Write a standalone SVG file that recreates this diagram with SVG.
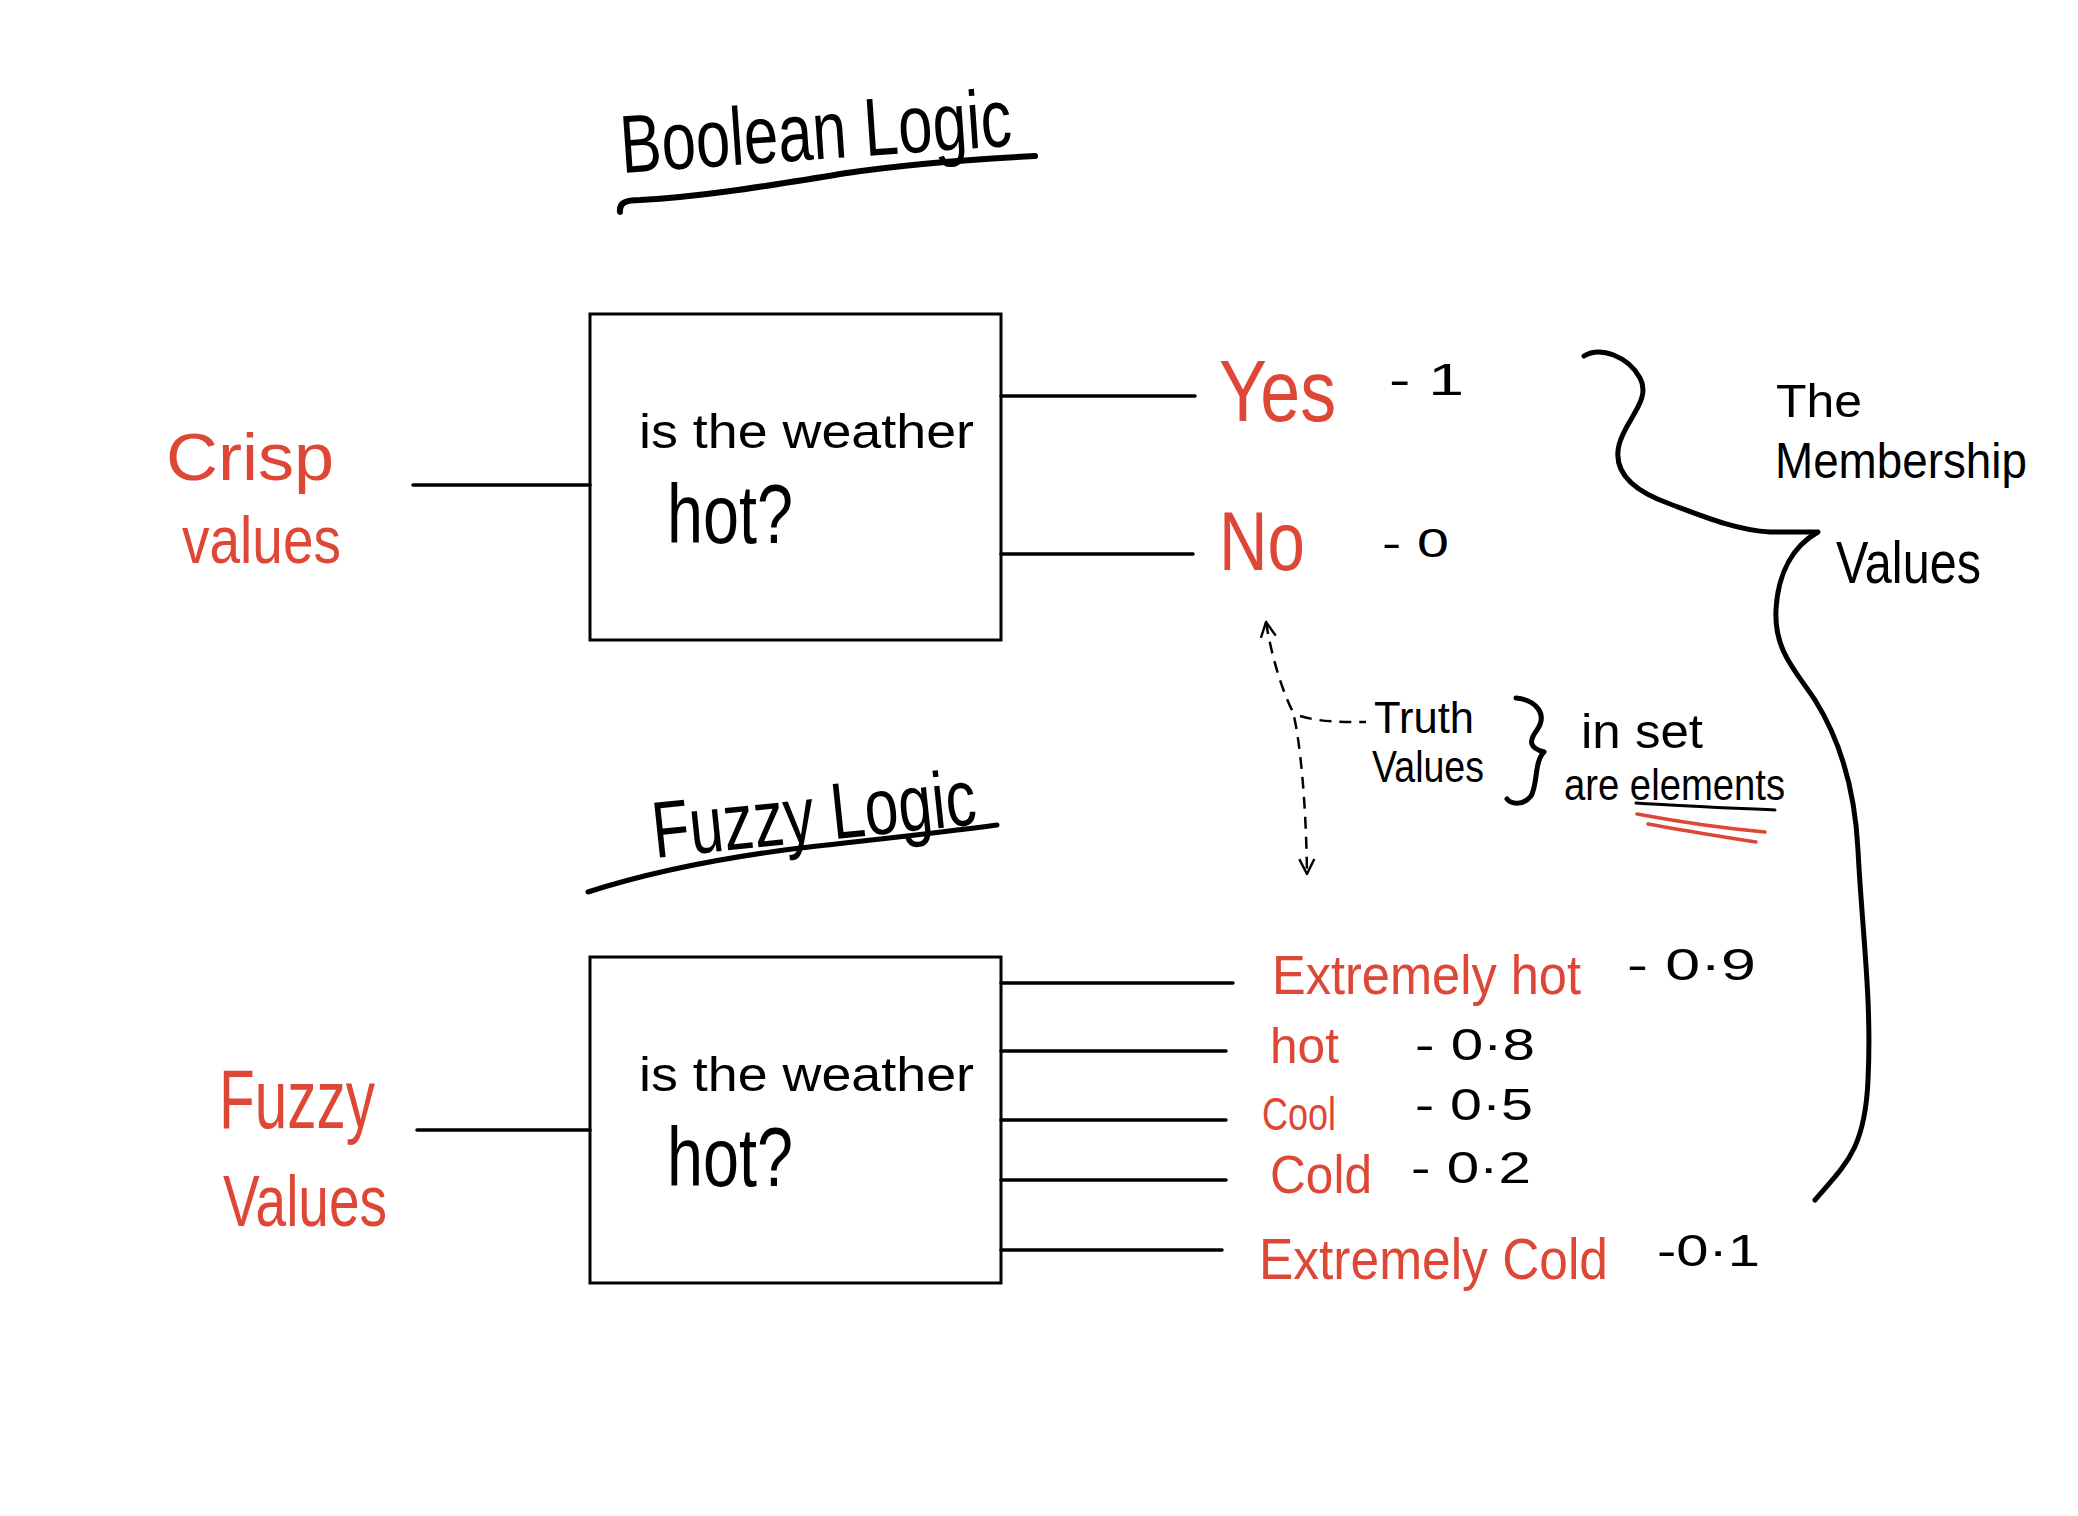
<svg xmlns="http://www.w3.org/2000/svg" width="2078" height="1516" viewBox="0 0 2078 1516">
<style>
.t{font-family:"Liberation Sans","DejaVu Sans",sans-serif;fill:#000}
.r{font-family:"Liberation Sans","DejaVu Sans",sans-serif;fill:#DE4736}
.box{fill:none;stroke:#000;stroke-width:3}
.ln{fill:none;stroke:#000;stroke-width:3.5;stroke-linecap:round}
.stroke{fill:none;stroke:#000;stroke-linecap:round;stroke-linejoin:round}
.red{fill:none;stroke:#DE4736;stroke-width:3.5;stroke-linecap:round}
.dash{fill:none;stroke:#000;stroke-width:2.5;stroke-dasharray:12 8}
</style>
<defs>
<marker id="chev" viewBox="0 0 12 12" refX="11" refY="6" markerWidth="18" markerHeight="18" markerUnits="userSpaceOnUse" orient="auto-start-reverse">
<path d="M1,1 L11,6 L1,11" fill="none" stroke="#000" stroke-width="1.6"/>
</marker>
</defs>
<rect width="2078" height="1516" fill="#fff"/>

<g id="title-boolean">
<text class="t" x="622" y="173" font-size="82" textLength="392" lengthAdjust="spacingAndGlyphs" transform="rotate(-4 622 173)">Boolean Logic</text>
<path class="stroke" stroke-width="6" d="M620,212 C619,203 625,200 640,200 C700,197 760,187 847,173 C900,165 960,160 1035,156"/>
</g>

<g id="crisp-values">
<text class="r" x="166" y="480" font-size="66" textLength="168" lengthAdjust="spacingAndGlyphs">Crisp</text>
<text class="r" x="182" y="563" font-size="66" textLength="159" lengthAdjust="spacingAndGlyphs">values</text>
</g>

<g id="boolean-box">
<rect class="box" x="590" y="314" width="411" height="326"/>
<text class="t" x="639" y="448" font-size="48" textLength="335" lengthAdjust="spacingAndGlyphs">is the weather</text>
<text class="t" x="667" y="543" font-size="84" textLength="126" lengthAdjust="spacingAndGlyphs">hot?</text>
</g>

<g id="yes-label">
<text class="r" x="1219" y="421" font-size="88" textLength="117" lengthAdjust="spacingAndGlyphs">Yes</text>
<text class="t" x="1389" y="395" font-size="44" textLength="75" lengthAdjust="spacingAndGlyphs">- 1</text>
</g>
<g id="no-label">
<text class="r" x="1219" y="570" font-size="84" textLength="86" lengthAdjust="spacingAndGlyphs">No</text>
<text class="t" x="1382" y="557" font-size="40" textLength="67" lengthAdjust="spacingAndGlyphs">- 0</text>
</g>

<g id="title-fuzzy">
<text class="t" x="655" y="858" font-size="80" textLength="325" lengthAdjust="spacingAndGlyphs" transform="rotate(-6 655 858)">Fuzzy Logic</text>
<path class="stroke" stroke-width="5" d="M588,892 C650,872 720,858 800,848 C870,840 930,834 997,825"/>
</g>

<g id="fuzzy-values">
<text class="r" x="219" y="1128" font-size="84" textLength="156" lengthAdjust="spacingAndGlyphs">Fuzzy</text>
<text class="r" x="223" y="1226" font-size="72" textLength="164" lengthAdjust="spacingAndGlyphs">Values</text>
</g>

<g id="fuzzy-box">
<rect class="box" x="590" y="957" width="411" height="326"/>
<text class="t" x="639" y="1091" font-size="48" textLength="335" lengthAdjust="spacingAndGlyphs">is the weather</text>
<text class="t" x="667" y="1186" font-size="84" textLength="126" lengthAdjust="spacingAndGlyphs">hot?</text>
</g>

<g id="extremely-hot">
<text class="r" x="1272" y="994" font-size="56" textLength="309" lengthAdjust="spacingAndGlyphs">Extremely hot</text>
<text class="t" x="1627" y="980" font-size="44" textLength="129" lengthAdjust="spacingAndGlyphs">- 0·9</text>
</g>
<g id="hot">
<text class="r" x="1270" y="1063" font-size="50" textLength="69" lengthAdjust="spacingAndGlyphs">hot</text>
<text class="t" x="1415" y="1060" font-size="44" textLength="120" lengthAdjust="spacingAndGlyphs">- 0·8</text>
</g>
<g id="cool">
<text class="r" x="1262" y="1130" font-size="46" textLength="74" lengthAdjust="spacingAndGlyphs">Cool</text>
<text class="t" x="1415" y="1120" font-size="44" textLength="118" lengthAdjust="spacingAndGlyphs">- 0·5</text>
</g>
<g id="cold">
<text class="r" x="1270" y="1193" font-size="54" textLength="102" lengthAdjust="spacingAndGlyphs">Cold</text>
<text class="t" x="1411" y="1183" font-size="44" textLength="120" lengthAdjust="spacingAndGlyphs">- 0·2</text>
</g>
<g id="extremely-cold">
<text class="r" x="1259" y="1279" font-size="57" textLength="349" lengthAdjust="spacingAndGlyphs">Extremely Cold</text>
<text class="t" x="1657" y="1266" font-size="44" textLength="103" lengthAdjust="spacingAndGlyphs">-0·1</text>
</g>

<g id="truth-values">
<text class="t" x="1374" y="733" font-size="44" textLength="100" lengthAdjust="spacingAndGlyphs">Truth</text>
<text class="t" x="1372" y="782" font-size="44" textLength="112" lengthAdjust="spacingAndGlyphs">Values</text>
<path class="stroke" stroke-width="5" d="M1516,698 C1536,700 1548,714 1537,730 C1528,742 1530,748 1544,752 C1534,762 1538,784 1531,796 C1524,805 1512,805 1507,799"/>
<text class="t" x="1581" y="748" font-size="48" textLength="122" lengthAdjust="spacingAndGlyphs">in set</text>
<text class="t" x="1564" y="800" font-size="44" textLength="221" lengthAdjust="spacingAndGlyphs">are elements</text>
<path class="stroke" stroke-width="3" d="M1636,803 C1680,806 1730,808 1775,810"/>
<path class="red" d="M1637,814 C1680,822 1720,828 1765,832"/>
<path class="red" d="M1648,824 C1690,832 1720,836 1756,842"/>
</g>

<g id="membership">
<path class="stroke" stroke-width="5" d="M1584,356 C1600,346 1628,356 1640,378 C1652,400 1625,420 1619,445 C1613,470 1630,490 1670,504 C1700,515 1735,530 1770,532 L1818,532 C1795,545 1778,570 1776,610 C1774,650 1795,670 1815,700 C1840,740 1855,790 1858,850 C1862,930 1872,1000 1868,1080 C1865,1150 1845,1165 1815,1200"/>
<text class="t" x="1776" y="417" font-size="47" textLength="86" lengthAdjust="spacingAndGlyphs">The</text>
<text class="t" x="1775" y="478" font-size="50" textLength="252" lengthAdjust="spacingAndGlyphs">Membership</text>
<text class="t" x="1836" y="583" font-size="60" textLength="145" lengthAdjust="spacingAndGlyphs">Values</text>
</g>

<g id="connectors">
<path class="ln" d="M413,485 H590"/>
<path class="ln" d="M1001,396 H1195"/>
<path class="ln" d="M1001,554 H1193"/>
<path class="ln" d="M417,1130 H590"/>
<path class="ln" d="M1001,983 H1233"/>
<path class="ln" d="M1001,1051 H1226"/>
<path class="ln" d="M1001,1120 H1226"/>
<path class="ln" d="M1001,1180 H1226"/>
<path class="ln" d="M1001,1250 H1222"/>
<path class="dash" d="M1266,622 C1272,660 1284,695 1293,712 C1300,740 1306,800 1307,874" marker-start="url(#chev)" marker-end="url(#chev)"/>
<path class="dash" d="M1300,716 C1320,722 1340,722 1366,722"/>
</g>
</svg>
